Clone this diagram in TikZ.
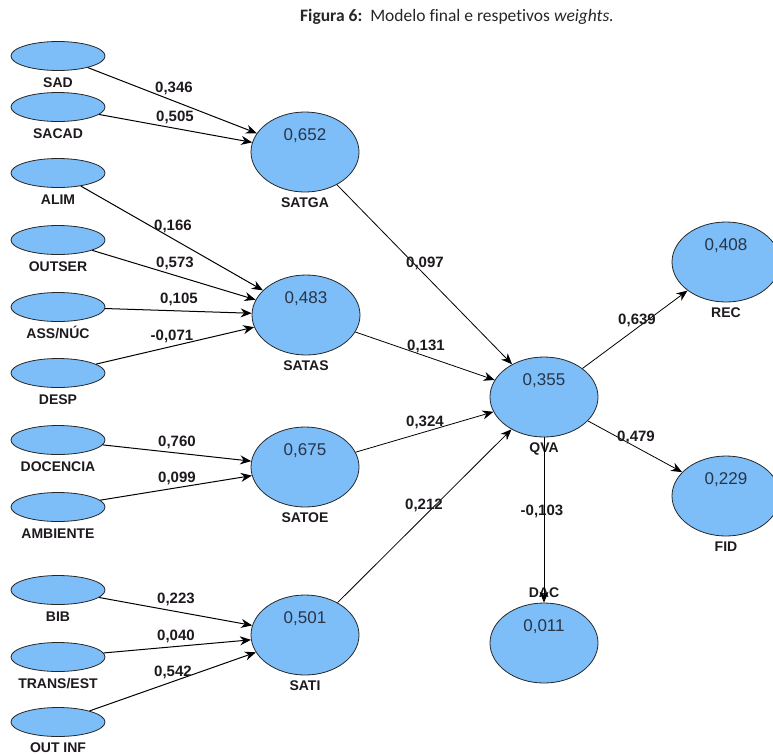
\documentclass[tikz,border=0pt]{standalone}
\usepackage{fontspec}
\setmainfont{Liberation Sans}
\newfontfamily\titlefont[Ligatures={NoCommon}]{Carlito}
\usetikzlibrary{arrows.meta,shapes.geometric}

\definecolor{nodeblue}{RGB}{125,190,248}
\definecolor{valtext}{RGB}{40,52,72}
\definecolor{labtext}{RGB}{30,25,30}

\tikzset{
	ind/.style={shape=ellipse, draw=black!85, fill=nodeblue, minimum width=94pt, minimum height=29pt, inner sep=0pt, line width=0.8pt},
	lat/.style={shape=ellipse, draw=black!85, fill=nodeblue, minimum width=108pt, minimum height=80pt, inner sep=0pt, line width=0.8pt},
	tag/.style={font=\bfseries\fontsize{14}{14}\selectfont, text=labtext, inner sep=0pt, text height=10pt, text depth=0pt},
	val/.style={font=\fontsize{17}{17}\selectfont, text=valtext, inner sep=0pt, yshift=16pt},
	weight/.style={font=\bfseries\fontsize{15}{15}\selectfont, text=labtext, inner sep=0pt},
}

\begin{document}
\begin{tikzpicture}[x=1pt, y=-1pt, >={Stealth[length=11pt,width=9pt]}]
	\useasboundingbox (0,0) rectangle (773,753);

	\node[font=\titlefont\fontsize{17.5}{17.5}\selectfont, text=black!85] (title) at (457,17) {\textbf{Figura 6:}\ \ Modelo final e respetivos \textit{weights.}};

	% indicadores
	\node[ind, label={[tag,label distance=6pt]below:SAD}] (sad) at (58,56) {};
	\node[ind, label={[tag,label distance=6pt]below:SACAD}] (sacad) at (58,107) {};
	\node[ind, label={[tag,label distance=6pt]below:ALIM}] (alim) at (58,173) {};
	\node[ind, label={[tag,label distance=6pt]below:OUTSER}] (outser) at (58,240) {};
	\node[ind, label={[tag,label distance=6pt]below:ASS/NÚC}] (assnuc) at (58,307) {};
	\node[ind, label={[tag,label distance=6pt]below:DESP}] (desp) at (58,373) {};
	\node[ind, label={[tag,label distance=6pt]below:DOCENCIA}] (docencia) at (58,440) {};
	\node[ind, label={[tag,label distance=6pt]below:AMBIENTE}] (ambiente) at (58,507) {};
	\node[ind, label={[tag,label distance=6pt]below:BIB}] (bib) at (58,590) {};
	\node[ind, label={[tag,label distance=6pt]below:TRANS/EST}] (transest) at (58,657) {};
	\node[ind, label={[tag,label distance=5pt]below:OUT INF}] (outinf) at (58,722) {};

	% latentes
	\node[lat, label={[val]center:0,652}, label={[tag,label distance=5pt]below:SATGA}] (satga) at (305,152) {};
	\node[lat, label={[val]center:0,483}, label={[tag,label distance=5pt]below:SATAS}] (satas) at (306,315) {};
	\node[lat, label={[val]center:0,675}, label={[tag,label distance=5pt]below:SATOE}] (satoe) at (305,467) {};
	\node[lat, label={[val]center:0,501}, label={[tag,label distance=5pt]below:SATI}] (sati) at (305,635) {};
	\node[lat, label={[val]center:0,355}, label={[tag,label distance=5pt]below:QVA}] (qva) at (544,397) {};
	\node[lat, label={[val]center:0,408}, label={[tag,label distance=5pt]below:REC}] (rec) at (726,262) {};
	\node[lat, label={[val]center:0,229}, label={[tag,label distance=5pt]below:FID}] (fid) at (726,496) {};
	\node[lat, label={[val]center:0,011}, label={[tag,label distance=5pt]above:DAC}] (dac) at (544,643) {};

	% pesos
	\path [->, line width=1pt] (sad) edge (satga);
	\path [->, line width=1pt] (sacad) edge (satga);
	\path [->, line width=1pt] (alim) edge (satas);
	\path [->, line width=1pt] (outser) edge (satas);
	\path [->, line width=1pt] (assnuc) edge (satas);
	\path [->, line width=1pt] (desp) edge (satas);
	\path [->, line width=1pt] (docencia) edge (satoe);
	\path [->, line width=1pt] (ambiente) edge (satoe);
	\path [->, line width=1pt] (bib) edge (sati);
	\path [->, line width=1pt] (transest) edge (sati);
	\path [->, line width=1pt] (outinf) edge (sati);
	\path [->, line width=0.8pt] (satga) edge (qva);
	\path [->, line width=0.8pt] (satas) edge (qva);
	\path [->, line width=0.8pt] (satoe) edge (qva);
	\path [->, line width=0.8pt] (sati) edge (qva);
	\path [->, line width=0.8pt] (qva) edge (rec);
	\path [->, line width=0.8pt] (qva) edge (fid);
	\path [->, line width=0.8pt] (qva) edge (dac);

	\node[weight] (w1) at (174,88) {0,346};
	\node[weight] (w2) at (175,117) {0,505};
	\node[weight] (w3) at (173,226) {0,166};
	\node[weight] (w4) at (175,263) {0,573};
	\node[weight] (w5) at (179,299) {0,105};
	\node[weight] (w6) at (172,336) {-0,071};
	\node[weight] (w7) at (177,442) {0,760};
	\node[weight] (w8) at (177,478) {0,099};
	\node[weight] (w9) at (176,599) {0,223};
	\node[weight] (w10) at (176,636) {0,040};
	\node[weight] (w11) at (173,672) {0,542};
	\node[weight] (w12) at (425,263) {0,097};
	\node[weight] (w13) at (426,346) {0,131};
	\node[weight] (w14) at (425,422) {0,324};
	\node[weight] (w15) at (424,505) {0,212};
	\node[weight] (w16) at (637,320) {0,639};
	\node[weight] (w17) at (636,437) {0,479};
	\node[weight] (w18) at (542,511) {-0,103};
\end{tikzpicture}
\end{document}
